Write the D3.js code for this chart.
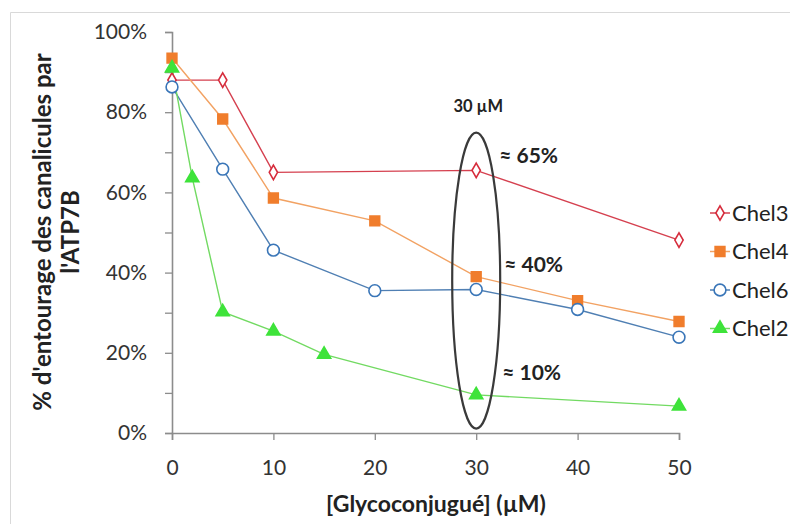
<!DOCTYPE html>
<html><head><meta charset="utf-8">
<script src="https://cdn.jsdelivr.net/npm/d3@7"></script>
<style>body{margin:0;background:#fff}svg{display:block}text{font-family:Lato,"Open Sans",sans-serif}</style>
</head><body><svg id="c" width="790" height="524"></svg>
<script>
const chel3X = [0, 5, 10, 30, 50];
const chel3Y = [0.88, 0.88, 0.65, 0.655, 0.481];
const chel4X = [0, 5, 10, 20, 30, 40, 50];
const chel4Y = [0.935, 0.783, 0.586, 0.529, 0.39, 0.33, 0.278];
const chel6X = [0, 5, 10, 20, 30, 40, 50];
const chel6Y = [0.863, 0.658, 0.456, 0.355, 0.358, 0.308, 0.239];
const chel2X = [0, 2, 5, 10, 15, 30, 50];
const chel2Y = [0.91, 0.636, 0.302, 0.254, 0.196, 0.095, 0.067];
const seriesNames = ["Chel3", "Chel4", "Chel6", "Chel2"];
const xTicks = [0, 10, 20, 30, 40, 50];
const yTicks = [0, 0.2, 0.4, 0.6, 0.8, 1.0];
const yMinorTicks = [0.1, 0.3, 0.5, 0.7, 0.9];
const notes = ["30 µM", "≈ 65%", "≈ 40%", "≈ 10%"];
const noteY = [0.80, 0.673, 0.401, 0.132];

const series = [
  {name: seriesNames[0], xs: chel3X, ys: chel3Y, line: "#d5404f", fill: "#fff", stroke: "#d62c3c", sym: d3.symbolDiamond, size: 60},
  {name: seriesNames[1], xs: chel4X, ys: chel4Y, line: "#f2a263", fill: "#f07d2c", stroke: "#f07d2c", sym: d3.symbolSquare, size: 95},
  {name: seriesNames[2], xs: chel6X, ys: chel6Y, line: "#4f7fb3", fill: "#fff", stroke: "#3a76b8", sym: d3.symbolCircle, size: 110},
  {name: seriesNames[3], xs: chel2X, ys: chel2Y, line: "#72da62", fill: "#3ee33a", stroke: "#3ee33a", sym: d3.symbolTriangle, size: 75}
];

const svg = d3.select("#c");
const x = d3.scaleLinear().domain([0, 50]).range([172, 679]);
const y = d3.scaleLinear().domain([0, 1]).range([433, 32]);

// outer frame
svg.append("path").attr("d", "M10.5,524 L10.5,12.5 L790,12.5").attr("fill", "none").attr("stroke", "#d9d9d9").attr("stroke-width", 1);

const axCol = "#8c8c8c";
svg.append("g").attr("transform", "translate(172,0)")
  .call(d3.axisLeft(y).tickValues(yTicks).tickFormat(d3.format(".0%")).tickSize(7).tickPadding(18));
svg.append("g").attr("transform", "translate(172,0)")
  .call(d3.axisLeft(y).tickValues(yMinorTicks).tickFormat("").tickSize(7))
  .select(".domain").remove();
svg.append("g").attr("transform", "translate(0,433)")
  .call(d3.axisBottom(x).tickValues(xTicks).tickSize(7).tickPadding(20));
svg.selectAll(".domain").attr("stroke", axCol).attr("stroke-width", 1.6);
svg.selectAll(".tick line").attr("stroke", axCol).attr("stroke-width", 1.3);
svg.selectAll(".tick text").attr("fill", "#333").style("font-size", "21px").style("font-family", "Lato, 'Open Sans', sans-serif");

const lineGen = d3.line().x(d => x(d[0])).y(d => y(d[1]));
series.forEach(s => {
  const pts = s.xs.map((v, i) => [v, s.ys[i]]);
  svg.append("path").datum(pts).attr("d", lineGen).attr("fill", "none").attr("stroke", s.line).attr("stroke-width", 1.4);
});
series.forEach(s => {
  const pts = s.xs.map((v, i) => [v, s.ys[i]]);
  svg.append("g").selectAll("path").data(pts).join("path")
    .attr("transform", d => `translate(${x(d[0])},${y(d[1])})`)
    .attr("d", d3.symbol().type(s.sym).size(s.size))
    .attr("fill", s.fill).attr("stroke", s.stroke).attr("stroke-width", 1.6);
});

// ellipse annotation
svg.append("ellipse").attr("cx", x(30)).attr("cy", y(0.38)).attr("rx", 24).attr("ry", 148)
  .attr("fill", "none").attr("stroke", "#3a3a3a").attr("stroke-width", 2.2);
svg.append("text").attr("x", x(30) + 2).attr("y", y(noteY[0])).attr("text-anchor", "middle")
  .style("font-size", "16.5px").style("font-weight", "bold").attr("fill", "#222").text(notes[0]);
const noteDx = [0, 23, 28, 26];
[1, 2, 3].forEach(i => {
  svg.append("text").attr("x", x(30) + noteDx[i]).attr("y", y(noteY[i]))
    .style("font-size", "21px").style("font-weight", "bold").attr("fill", "#222").text(notes[i]);
});

// legend
const lg = svg.append("g");
series.forEach((s, i) => {
  const cy = 213 + i * 38.5;
  lg.append("line").attr("x1", 710).attr("x2", 730).attr("y1", cy).attr("y2", cy).attr("stroke", s.line).attr("stroke-width", 1.5);
  lg.append("path").attr("transform", `translate(720,${cy})`).attr("d", d3.symbol().type(s.sym).size(s.size))
    .attr("fill", s.fill).attr("stroke", s.stroke).attr("stroke-width", 1.6);
  lg.append("text").attr("x", 732).attr("y", cy + 7.5).style("font-size", "22px").attr("fill", "#222").text(s.name);
});

// axis titles
svg.append("text").attr("x", 436).attr("y", 512).attr("text-anchor", "middle")
  .style("font-size", "23px").style("font-weight", "bold").attr("fill", "#222").text("[Glycoconjugué] (µM)");
const yt = svg.append("text").attr("transform", "translate(0,232) rotate(-90)").attr("text-anchor", "middle")
  .style("font-size", "24px").style("font-weight", "bold").attr("fill", "#222");
yt.append("tspan").attr("x", 0).attr("y", 51).text("% d'entourage des canalicules par");
yt.append("tspan").attr("x", 0).attr("y", 79).text("l'ATP7B");
</script></body></html>
